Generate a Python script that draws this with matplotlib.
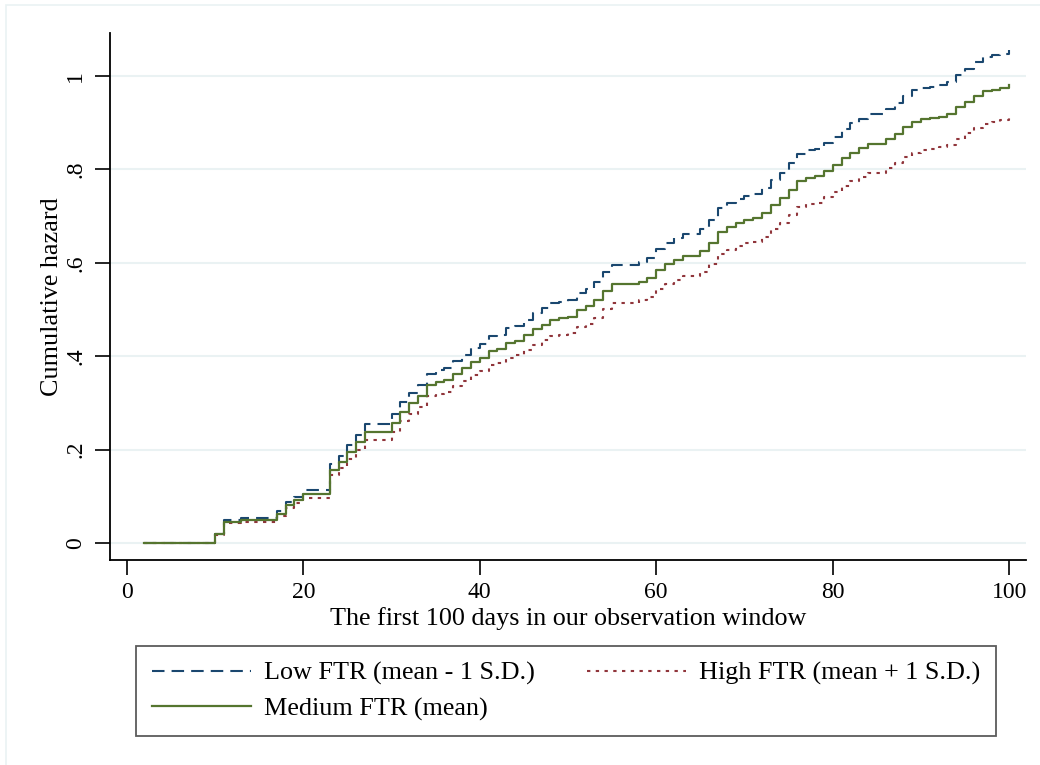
import matplotlib
matplotlib.use("Agg")
import matplotlib.pyplot as plt
from matplotlib.patches import Rectangle

# step days and cumulative hazard
days = [2, 10, 11, 13, 17, 18, 19, 20, 23, 24, 25, 26, 27, 30, 31, 32, 33, 34, 35, 36,
        37, 38, 39, 40, 41, 42, 43, 44, 45, 46, 47, 48, 49, 50, 51, 52, 53, 54, 55, 58,
        59, 60, 61, 62, 63, 65, 66, 67, 68, 69, 70, 71, 72, 73, 74, 75, 76, 77, 78, 79,
        80, 81, 82, 83, 84, 86, 87, 88, 89, 90, 91, 92, 93, 94, 95, 96, 97, 98, 99, 100]

haz_low = [0.0, 0.020, 0.049, 0.054, 0.068, 0.088, 0.099, 0.113, 0.169, 0.187,
           0.210, 0.232, 0.255, 0.277, 0.302, 0.321, 0.339, 0.363, 0.371, 0.375,
           0.390, 0.403, 0.417, 0.427, 0.443, 0.446, 0.460, 0.465, 0.478, 0.492,
           0.503, 0.514, 0.517, 0.521, 0.536, 0.545, 0.559, 0.581, 0.596, 0.602,
           0.610, 0.629, 0.642, 0.653, 0.661, 0.672, 0.691, 0.717, 0.728, 0.737,
           0.744, 0.747, 0.760, 0.778, 0.793, 0.814, 0.834, 0.841, 0.844, 0.857,
           0.870, 0.886, 0.899, 0.908, 0.918, 0.930, 0.942, 0.958, 0.969, 0.975,
           0.977, 0.981, 0.988, 1.003, 1.016, 1.029, 1.041, 1.044, 1.048, 1.055]

haz_med = [0.0, 0.019, 0.046, 0.050, 0.063, 0.082, 0.092, 0.105, 0.157, 0.174,
           0.195, 0.216, 0.237, 0.258, 0.281, 0.299, 0.315, 0.338, 0.345, 0.349,
           0.363, 0.375, 0.388, 0.397, 0.412, 0.415, 0.428, 0.433, 0.445, 0.458,
           0.468, 0.478, 0.481, 0.485, 0.499, 0.507, 0.520, 0.540, 0.554, 0.560,
           0.567, 0.585, 0.597, 0.607, 0.615, 0.625, 0.643, 0.667, 0.677, 0.686,
           0.692, 0.695, 0.707, 0.724, 0.738, 0.757, 0.776, 0.782, 0.785, 0.797,
           0.809, 0.824, 0.836, 0.845, 0.854, 0.865, 0.876, 0.891, 0.901, 0.907,
           0.909, 0.913, 0.919, 0.933, 0.945, 0.957, 0.968, 0.971, 0.975, 0.981]

haz_high = [0.0, 0.018, 0.043, 0.046, 0.058, 0.076, 0.085, 0.097, 0.146, 0.161,
            0.181, 0.200, 0.220, 0.239, 0.261, 0.277, 0.292, 0.314, 0.320, 0.324,
            0.337, 0.348, 0.360, 0.368, 0.382, 0.385, 0.397, 0.402, 0.413, 0.425,
            0.434, 0.444, 0.446, 0.450, 0.463, 0.470, 0.483, 0.501, 0.514, 0.520,
            0.526, 0.543, 0.554, 0.563, 0.571, 0.580, 0.597, 0.619, 0.628, 0.637,
            0.642, 0.645, 0.656, 0.672, 0.685, 0.702, 0.720, 0.726, 0.728, 0.740,
            0.751, 0.765, 0.776, 0.784, 0.793, 0.803, 0.813, 0.827, 0.836, 0.842,
            0.844, 0.847, 0.853, 0.866, 0.877, 0.888, 0.898, 0.901, 0.905, 0.910]

xticks = [0, 20, 40, 60, 80, 100]
yticks = [0, 0.2, 0.4, 0.6, 0.8, 1.0]
ytick_labels = ["0", ".2", ".4", ".6", ".8", "1"]

navy = "#1a476f"
maroon = "#90353b"
green = "#55752f"
grid_col = "#eaf2f3"

plt.rcParams['font.family'] = ['Liberation Serif', 'DejaVu Serif']

fig = plt.figure(figsize=(10.4, 7.65), dpi=100)
ax = fig.add_axes([110/1040, 1 - 560/765, (1026 - 110)/1040, (560 - 33)/765])

# faint graph-region outline (top-left visible in the original)
fig.add_artist(Rectangle((6/1040, -0.1), 1.2, 1 - 5/765 + 0.1, transform=fig.transFigure,
                         fill=False, edgecolor=grid_col, lw=1.2))

l1, = ax.plot(days, haz_low, drawstyle='steps-post', color=navy, lw=1.5,
              dashes=(6.0, 3.4), label="Low FTR (mean - 1 S.D.)")
l3, = ax.plot(days, haz_high, drawstyle='steps-post', color=maroon, lw=1.5,
              dashes=(1.6, 2.6), label="High FTR (mean + 1 S.D.)")
l2, = ax.plot(days, haz_med, drawstyle='steps-post', color=green, lw=1.6,
              label="Medium FTR (mean)")

ax.set_xlim(-1.9, 101.9)
ax.set_ylim(-0.036, 1.092)
ax.set_xticks(xticks)
ax.set_yticks(yticks)
ax.set_yticklabels(ytick_labels, rotation=90, va='center')
ax.tick_params(axis='both', labelsize=17, length=11, width=1.2, color='black')
ax.tick_params(axis='x', pad=5)
ax.tick_params(axis='y', pad=6)

ax.grid(True, axis='y', color=grid_col, lw=1.5)
ax.set_axisbelow(True)
for s in ['top', 'right']:
    ax.spines[s].set_visible(False)
for s in ['left', 'bottom']:
    ax.spines[s].set_linewidth(1.3)

ax.set_xlabel("The first 100 days in our observation window", fontsize=18.8, labelpad=3)
ax.set_ylabel("Cumulative hazard", fontsize=18.8, labelpad=1.5)

leg = fig.legend(handles=[l1, l2, l3], loc='upper left', ncol=2,
                 bbox_to_anchor=(136/1040, 1 - 646/765), fontsize=18.8,
                 frameon=True, fancybox=False, edgecolor='#333333',
                 handlelength=3.8, handletextpad=0.5, columnspacing=2.0,
                 labelspacing=0.45, borderpad=0.6, borderaxespad=0)
leg.get_frame().set_linewidth(1.3)

fig.savefig("out.png", dpi=100, facecolor='white')
